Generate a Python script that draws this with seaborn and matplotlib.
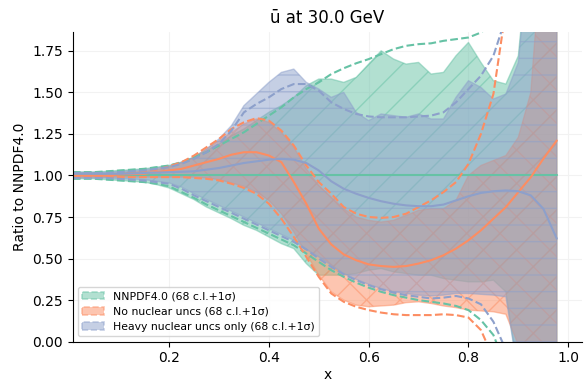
import matplotlib
matplotlib.use("Agg")
import matplotlib.pyplot as plt
from matplotlib.patches import Patch
import seaborn as sns

# x grid shared by every curve
x_vals = [0.007, 0.025, 0.05, 0.075, 0.1, 0.125, 0.15, 0.175, 0.2, 0.225,
          0.25, 0.275, 0.3, 0.325, 0.35, 0.375, 0.4, 0.425, 0.45, 0.475,
          0.5, 0.525, 0.55, 0.575, 0.6, 0.625, 0.65, 0.675, 0.7, 0.725,
          0.75, 0.775, 0.8, 0.825, 0.85, 0.875, 0.9, 0.925, 0.95, 0.977]

# NNPDF4.0 (reference, central = 1)
nnpdf_c = [1.0] * len(x_vals)
nnpdf_hi = [1.02, 1.02, 1.02, 1.025, 1.03, 1.035, 1.04, 1.05, 1.06, 1.08,
            1.11, 1.15, 1.19, 1.24, 1.28, 1.33, 1.38, 1.42, 1.47, 1.54,
            1.58, 1.58, 1.56, 1.59, 1.67, 1.75, 1.70, 1.67, 1.68, 1.61,
            1.62, 1.72, 1.80, 1.68, 1.57, 1.55, 1.72, 2.5, 3.0, 3.0]
nnpdf_lo = [0.98, 0.98, 0.98, 0.975, 0.97, 0.965, 0.96, 0.945, 0.925, 0.89,
            0.855, 0.81, 0.775, 0.74, 0.70, 0.67, 0.63, 0.59, 0.56, 0.47,
            0.40, 0.40, 0.40, 0.41, 0.43, 0.44, 0.42, 0.41, 0.40, 0.40,
            0.38, 0.37, 0.36, 0.36, 0.37, 0.30, -0.2, -0.5, -0.8, -1.0]
nnpdf_up = [1.02, 1.02, 1.02, 1.025, 1.03, 1.035, 1.04, 1.05, 1.06, 1.08,
            1.11, 1.14, 1.18, 1.22, 1.26, 1.31, 1.36, 1.41, 1.47, 1.52,
            1.56, 1.61, 1.645, 1.675, 1.70, 1.73, 1.76, 1.78, 1.79, 1.795,
            1.81, 1.82, 1.83, 1.86, 1.92, 2.0, 2.1, 2.2, 2.3, 2.4]
nnpdf_dn = [0.98, 0.98, 0.98, 0.975, 0.97, 0.965, 0.96, 0.95, 0.935, 0.90,
            0.865, 0.825, 0.79, 0.755, 0.72, 0.685, 0.65, 0.615, 0.58, 0.53,
            0.48, 0.43, 0.39, 0.355, 0.325, 0.30, 0.28, 0.265, 0.25, 0.24,
            0.23, 0.215, 0.19, 0.13, 0.04, -0.15, -0.35, -0.55, -0.75, -0.95]

# No nuclear uncertainties
nonuc_c = [1.0, 1.0, 1.0, 1.0, 1.005, 1.008, 1.01, 1.02, 1.03, 1.04,
           1.06, 1.08, 1.10, 1.125, 1.14, 1.14, 1.12, 1.08, 0.96, 0.83,
           0.68, 0.585, 0.525, 0.49, 0.465, 0.455, 0.45, 0.455, 0.47, 0.49,
           0.52, 0.56, 0.61, 0.67, 0.74, 0.81, 0.90, 0.99, 1.10, 1.21]
nonuc_hi = [1.01, 1.01, 1.01, 1.01, 1.015, 1.02, 1.025, 1.035, 1.05, 1.075,
            1.11, 1.16, 1.21, 1.26, 1.31, 1.34, 1.32, 1.26, 1.17, 1.04,
            0.94, 0.87, 0.80, 0.75, 0.73, 0.72, 0.73, 0.76, 0.79, 0.80,
            0.80, 0.85, 1.00, 1.06, 1.09, 1.12, 1.23, 1.50, 2.5, 3.0]
nonuc_lo = [0.99, 0.99, 0.99, 0.99, 0.99, 0.99, 0.99, 0.99, 0.99, 0.99,
            0.99, 0.985, 0.975, 0.955, 0.935, 0.90, 0.85, 0.77, 0.66, 0.53,
            0.40, 0.30, 0.25, 0.22, 0.21, 0.215, 0.22, 0.235, 0.24, 0.23,
            0.215, 0.205, 0.19, 0.185, 0.18, 0.165, -0.02, -0.4, -0.8, -1.2]
nonuc_up = [1.01, 1.01, 1.01, 1.01, 1.015, 1.02, 1.025, 1.035, 1.055, 1.08,
            1.12, 1.17, 1.22, 1.28, 1.32, 1.345, 1.33, 1.27, 1.18, 1.06,
            0.96, 0.89, 0.81, 0.77, 0.75, 0.745, 0.75, 0.77, 0.81, 0.85,
            0.90, 0.96, 1.07, 1.25, 1.49, 2.0, 2.6, 3.2, 3.8, 4.5]
nonuc_dn = [0.99, 0.99, 0.99, 0.99, 0.99, 0.99, 0.99, 0.99, 0.99, 0.99,
            0.985, 0.98, 0.97, 0.95, 0.925, 0.89, 0.83, 0.74, 0.63, 0.51,
            0.39, 0.29, 0.24, 0.21, 0.19, 0.175, 0.165, 0.16, 0.16, 0.16,
            0.165, 0.16, 0.145, 0.07, -0.1, -0.3, -0.6, -1.0, -1.4, -2.0]

# Heavy nuclear uncertainties only
heavy_c = [1.01, 1.01, 1.01, 1.01, 1.01, 1.012, 1.015, 1.017, 1.02, 1.022,
           1.025, 1.035, 1.045, 1.06, 1.075, 1.085, 1.095, 1.10, 1.095, 1.075,
           1.03, 0.965, 0.92, 0.89, 0.865, 0.845, 0.83, 0.82, 0.815, 0.815,
           0.825, 0.85, 0.875, 0.895, 0.905, 0.91, 0.905, 0.88, 0.80, 0.62]
heavy_hi = [1.02, 1.02, 1.02, 1.02, 1.025, 1.03, 1.035, 1.045, 1.055, 1.08,
            1.11, 1.16, 1.22, 1.30, 1.42, 1.49, 1.56, 1.62, 1.64, 1.56,
            1.52, 1.47, 1.50, 1.38, 1.33, 1.37, 1.36, 1.35, 1.37, 1.34,
            1.34, 1.47, 1.57, 1.53, 1.46, 1.49, 1.68, 2.5, 3.0, 3.5]
heavy_lo = [0.985, 0.985, 0.985, 0.985, 0.98, 0.978, 0.975, 0.965, 0.955, 0.93,
            0.89, 0.855, 0.82, 0.785, 0.75, 0.715, 0.68, 0.645, 0.61, 0.555,
            0.51, 0.46, 0.41, 0.375, 0.345, 0.32, 0.30, 0.29, 0.28, 0.275,
            0.28, 0.29, 0.29, 0.285, 0.28, 0.27, -0.2, -0.6, -1.0, -1.5]
heavy_up = [1.015, 1.015, 1.015, 1.015, 1.02, 1.025, 1.03, 1.04, 1.05, 1.07,
            1.10, 1.14, 1.19, 1.27, 1.38, 1.43, 1.47, 1.52, 1.55, 1.55,
            1.51, 1.44, 1.40, 1.37, 1.355, 1.35, 1.35, 1.35, 1.355, 1.36,
            1.38, 1.44, 1.52, 1.60, 1.72, 1.95, 2.3, 2.7, 3.1, 3.5]
heavy_dn = [0.985, 0.985, 0.985, 0.985, 0.98, 0.975, 0.97, 0.96, 0.95, 0.92,
            0.88, 0.845, 0.81, 0.775, 0.74, 0.705, 0.67, 0.635, 0.60, 0.555,
            0.50, 0.45, 0.405, 0.37, 0.34, 0.315, 0.295, 0.28, 0.27, 0.26,
            0.265, 0.275, 0.26, 0.225, 0.12, -0.05, -0.3, -0.6, -0.9, -1.2]

labels = ["NNPDF4.0 (68 c.l.+1σ)",
          "No nuclear uncs (68 c.l.+1σ)",
          "Heavy nuclear uncs only (68 c.l.+1σ)"]
hatches = ["/", "X", "-"]

sns.set_theme(style="ticks", rc={
    "axes.labelsize": 10, "xtick.labelsize": 10, "ytick.labelsize": 10,
    "axes.titlesize": 12, "axes.edgecolor": "black",
    "xtick.color": "black", "ytick.color": "black",
    "text.color": "black", "axes.labelcolor": "black",
    "axes.linewidth": 0.8, "xtick.major.width": 0.8, "ytick.major.width": 0.8,
    "xtick.major.size": 3.5, "ytick.major.size": 3.5,
})
colors = sns.color_palette("Set2", 3)

fig, ax = plt.subplots(figsize=(5.85, 3.85), dpi=100)
fig.subplots_adjust(left=0.1243, right=0.9944, bottom=0.1125, top=0.9177)

sets = [
    (nnpdf_c, nnpdf_lo, nnpdf_hi, nnpdf_dn, nnpdf_up),
    (nonuc_c, nonuc_lo, nonuc_hi, nonuc_dn, nonuc_up),
    (heavy_c, heavy_lo, heavy_hi, heavy_dn, heavy_up),
]

handles = []
for (cv, lo, hi, dn, up), col, hatch, lab in zip(sets, colors, hatches, labels):
    ax.fill_between(x_vals, lo, hi, facecolor=col, edgecolor=col,
                    alpha=0.5, hatch=hatch, lw=1)
    sns.lineplot(x=x_vals, y=cv, ax=ax, color=col, lw=1.5)
    sns.lineplot(x=x_vals, y=up, ax=ax, color=col, lw=1.5, linestyle="--")
    sns.lineplot(x=x_vals, y=dn, ax=ax, color=col, lw=1.5, linestyle="--")
    handles.append(Patch(facecolor=col, edgecolor=col, alpha=0.5,
                         linestyle="--", lw=1.2, label=lab))

ax.set_xlim(0.0068, 1.027)
ax.set_ylim(0, 1.865)
ax.set_yticks([0, 0.25, 0.5, 0.75, 1.0, 1.25, 1.5, 1.75])
ax.set_xticks([0.2, 0.4, 0.6, 0.8, 1.0])
ax.grid(True, color="#f2f2f2", lw=0.8)
ax.set_axisbelow(True)

ax.set_title("ū at 30.0 GeV")
ax.set_xlabel("x", labelpad=2)
ax.set_ylabel("Ratio to NNPDF4.0")
ax.legend(handles=handles, loc="lower left", fontsize=7.8, handlelength=2.0)
sns.despine(ax=ax)

fig.savefig("out.png", dpi=100)
